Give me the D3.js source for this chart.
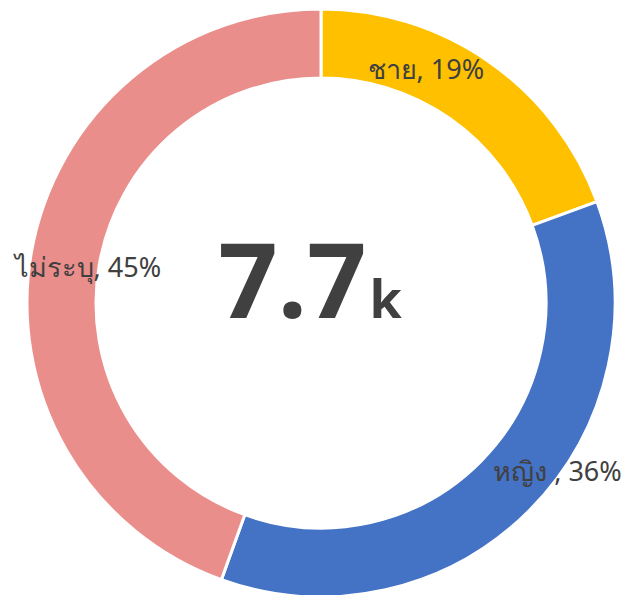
<!DOCTYPE html>
<html>
<head>
<meta charset="utf-8">
<script src="https://cdn.jsdelivr.net/npm/d3@7"></script>
<style>
  body { margin: 0; background: #fff; }
  text { font-family: "Noto Sans", "Open Sans", sans-serif; fill: #404040; }
</style>
</head>
<body>
<div id="chart"></div>
<script>
const categories = ['ชาย', 'หญิง ', 'ไม่ระบุ'];
const shares = [19.4, 36.1, 44.5];
const colors = ['#FFC000', '#4472C4', '#EA8E8C'];
const totalLabel = '7.7';
const totalUnit = 'k';

let w = 639,
    h = 595;

let cx = 321, cy = 303,
    outerR = 294, innerR = 225;

let svg = d3.select('#chart').append('svg')
    .attr('width', w)
    .attr('height', h);

let g = svg.append('g').attr('transform', `translate(${cx},${cy})`);

let data = categories.map((c, i) => ({ name: c, value: shares[i], color: colors[i] }));

let pie = d3.pie().sort(null).value(d => d.value);
let arc = d3.arc().innerRadius(innerR).outerRadius(outerR);
let labelArc = d3.arc().innerRadius(260).outerRadius(260);

// label nudges, excel-style placement
let nudges = [[-44, -21], [52, -16], [23, 8]];

let arcs = pie(data);

g.selectAll('path')
    .data(arcs)
    .enter().append('path')
    .attr('d', arc)
    .attr('fill', d => d.data.color)
    .attr('stroke', '#fff')
    .attr('stroke-width', 3);

g.selectAll('.lbl')
    .data(arcs)
    .enter().append('text')
    .attr('class', 'lbl')
    .attr('x', (d, i) => labelArc.centroid(d)[0] + nudges[i][0])
    .attr('y', (d, i) => labelArc.centroid(d)[1] + nudges[i][1])
    .attr('text-anchor', 'middle')
    .attr('dominant-baseline', 'central')
    .style('font-size', '27px')
    .text(d => `${d.data.name}, ${Math.round(d.data.value)}%`);

let center = g.append('text')
    .attr('x', -11)
    .attr('y', 15)
    .attr('text-anchor', 'middle')
    .style('font-weight', 'bold');

center.append('tspan')
    .style('font-size', '104px')
    .text(totalLabel);
center.append('tspan')
    .attr('dx', 3)
    .style('font-size', '52px')
    .text(totalUnit);
</script>
</body>
</html>
